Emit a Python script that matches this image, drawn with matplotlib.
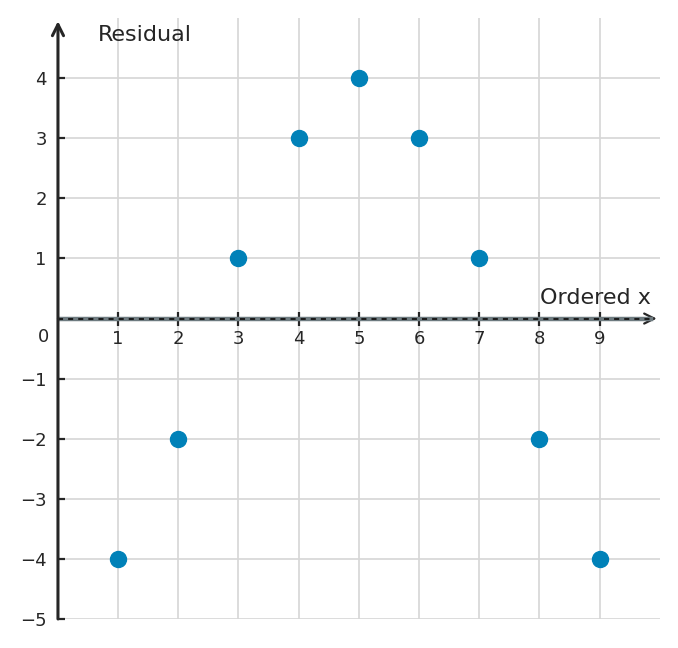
import matplotlib
matplotlib.use("Agg")
import matplotlib.pyplot as plt

# residuals
order_x = [1, 2, 3, 4, 5, 6, 7, 8, 9]
residual = [-4, -2, 1, 3, 4, 3, 1, -2, -4]
x_ticks = [1, 2, 3, 4, 5, 6, 7, 8, 9]
y_ticks = [-5, -4, -3, -2, -1, 1, 2, 3, 4]

TEXT = "#262626"
GRID = "#d6d6d6"
POINT = "#0081b8"

fig = plt.figure(figsize=(6.78, 6.48), dpi=100)
ax = fig.add_axes([0.0855, 0.0448, 0.8875, 0.9272])
ax.set_xlim(0, 10)
ax.set_ylim(-5, 5)

ax.set_xticks(x_ticks)
ax.set_yticks(y_ticks)
ax.grid(True, color=GRID, lw=1.2, zorder=0)
ax.set_axisbelow(True)

for side in ["top", "right", "left"]:
    ax.spines[side].set_visible(False)
ax.spines["bottom"].set_position(("data", 0))
ax.spines["bottom"].set_visible(False)

ax.tick_params(axis="x", direction="inout", length=10, width=1.6, color=TEXT,
               labelsize=13, labelcolor=TEXT, pad=3)
ax.tick_params(axis="y", direction="in", length=5, width=1.6, color=TEXT,
               labelsize=13, labelcolor=TEXT, pad=8)

# x arrow sits underneath the zero line, only its head shows
ax.annotate("", xy=(9.95, 0), xytext=(0, 0),
            arrowprops=dict(arrowstyle="->", color=TEXT, lw=1.6,
                            mutation_scale=18, shrinkA=0, shrinkB=0),
            zorder=1.5)
ax.annotate("", xy=(0, 4.95), xytext=(0, -5),
            arrowprops=dict(arrowstyle="->", color=TEXT, lw=2.2,
                            mutation_scale=20, shrinkA=0, shrinkB=0),
            annotation_clip=False, zorder=4)

# zero line: grey band with dashes on top
ax.axhline(0, xmax=0.985, color="#6e7b80", lw=3.2, zorder=2)
ax.axhline(0, xmax=0.985, color="#1a1a1a", lw=1.4, ls=(0, (2.6, 2.6)), zorder=3)

ax.plot(order_x, residual, "o", color=POINT, markersize=11.5, zorder=5)

ax.text(-0.15, -0.3, "0", ha="right", va="center", fontsize=13, color=TEXT)
ax.text(0.66, 4.72, "Residual", ha="left", va="center", fontsize=16, color=TEXT)
ax.text(9.85, 0.35, "Ordered x", ha="right", va="center", fontsize=16, color=TEXT)

fig.savefig("out.png", dpi=100)
